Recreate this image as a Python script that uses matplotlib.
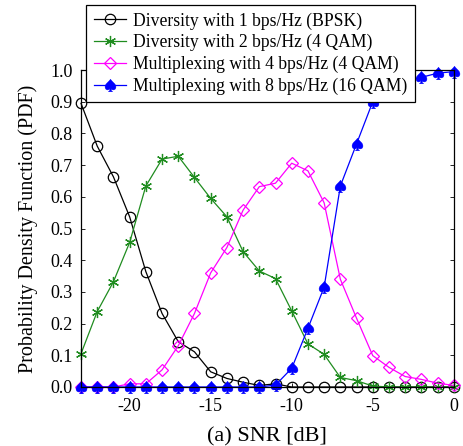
import numpy as np
import matplotlib.pyplot as plt

plt.rcParams['font.family'] = ['Liberation Serif', 'DejaVu Serif']
plt.rcParams['mathtext.fontset'] = 'stix'
plt.rcParams['axes.unicode_minus'] = False

### SNR grid and PDF values for each scheme
snr = np.arange(-23, 1)

pdf_bpsk = [0.895, 0.76, 0.663, 0.537, 0.364, 0.232, 0.143, 0.111, 0.048, 0.027,
            0.015, 0.005, 0.01, 0, 0, 0, 0, 0, 0, 0, 0, 0, 0, 0]
pdf_div_4qam = [0.105, 0.238, 0.332, 0.456, 0.634, 0.719, 0.728, 0.661, 0.595, 0.537,
                0.427, 0.366, 0.342, 0.24, 0.136, 0.103, 0.03, 0.02, 0.003, 0, 0, 0, 0, 0]
pdf_mux_4qam = [0, 0, 0, 0.01, 0.01, 0.054, 0.13, 0.232, 0.36, 0.44,
                0.558, 0.632, 0.643, 0.706, 0.682, 0.581, 0.34, 0.217, 0.099, 0.062,
                0.033, 0.024, 0.012, 0.005]
pdf_mux_16qam = [0, 0, 0, 0, 0, 0, 0, 0, 0, 0,
                 0, 0, 0.006, 0.059, 0.185, 0.315, 0.634, 0.767, 0.9, 0.95,
                 0.965, 0.977, 0.99, 0.995]

labels = ['Diversity with 1 bps/Hz (BPSK)',
          'Diversity with 2 bps/Hz (4 QAM)',
          'Multiplexing with 4 bps/Hz (4 QAM)',
          'Multiplexing with 8 bps/Hz (16 QAM)']

fig = plt.figure(figsize=(4.64, 4.46), dpi=100)
ax = fig.add_axes([0.1746, 0.1323, 0.8034, 0.7107])

lw = 0.9
ax.plot(snr, pdf_bpsk, color='k', lw=lw, marker='o', ms=7.5, mfc='none',
        mew=0.9, label=labels[0], clip_on=False)
ax.plot(snr, pdf_div_4qam, color='#1f8c1f', lw=lw, marker=(6, 2, 0), ms=8,
        mew=0.9, label=labels[1], clip_on=False)
ax.plot(snr, pdf_mux_4qam, color='#ff00ff', lw=lw, marker='D', ms=6.5, mfc='none',
        mew=0.9, label=labels[2], clip_on=False)
ax.plot(snr, pdf_mux_16qam, color='#0000ff', lw=lw, marker=r'$\spadesuit$', ms=9,
        mew=0.3, label=labels[3], clip_on=False)

ax.set_xlim(-23, 0)
ax.set_ylim(0, 1.0)
ax.set_xticks([-20, -15, -10, -5, 0])
ax.set_yticks(np.arange(0, 1.01, 0.1))
ax.set_yticklabels(['%.1f' % v for v in np.arange(0, 1.01, 0.1)])
ax.tick_params(direction='in', length=3, width=0.6, labelsize=13,
               top=True, right=True)
ax.tick_params(axis='x', pad=8)
ax.tick_params(axis='y', pad=6)
for s in ax.spines.values():
    s.set_linewidth(0.9)

ax.set_xlabel('(a) SNR [dB]', fontsize=16, labelpad=9)
ax.set_ylabel('Probability Density Function (PDF)', fontsize=14.5, labelpad=9)

leg = ax.legend(loc='upper left', bbox_to_anchor=(0.186, 0.989),
                bbox_transform=fig.transFigure, fontsize=12.7, frameon=True,
                fancybox=False, edgecolor='k', framealpha=1, borderpad=0.42,
                labelspacing=0.25, handlelength=1.85, handletextpad=0.4,
                borderaxespad=0)
leg.get_frame().set_linewidth(0.9)

plt.savefig('out.png', dpi=100)
